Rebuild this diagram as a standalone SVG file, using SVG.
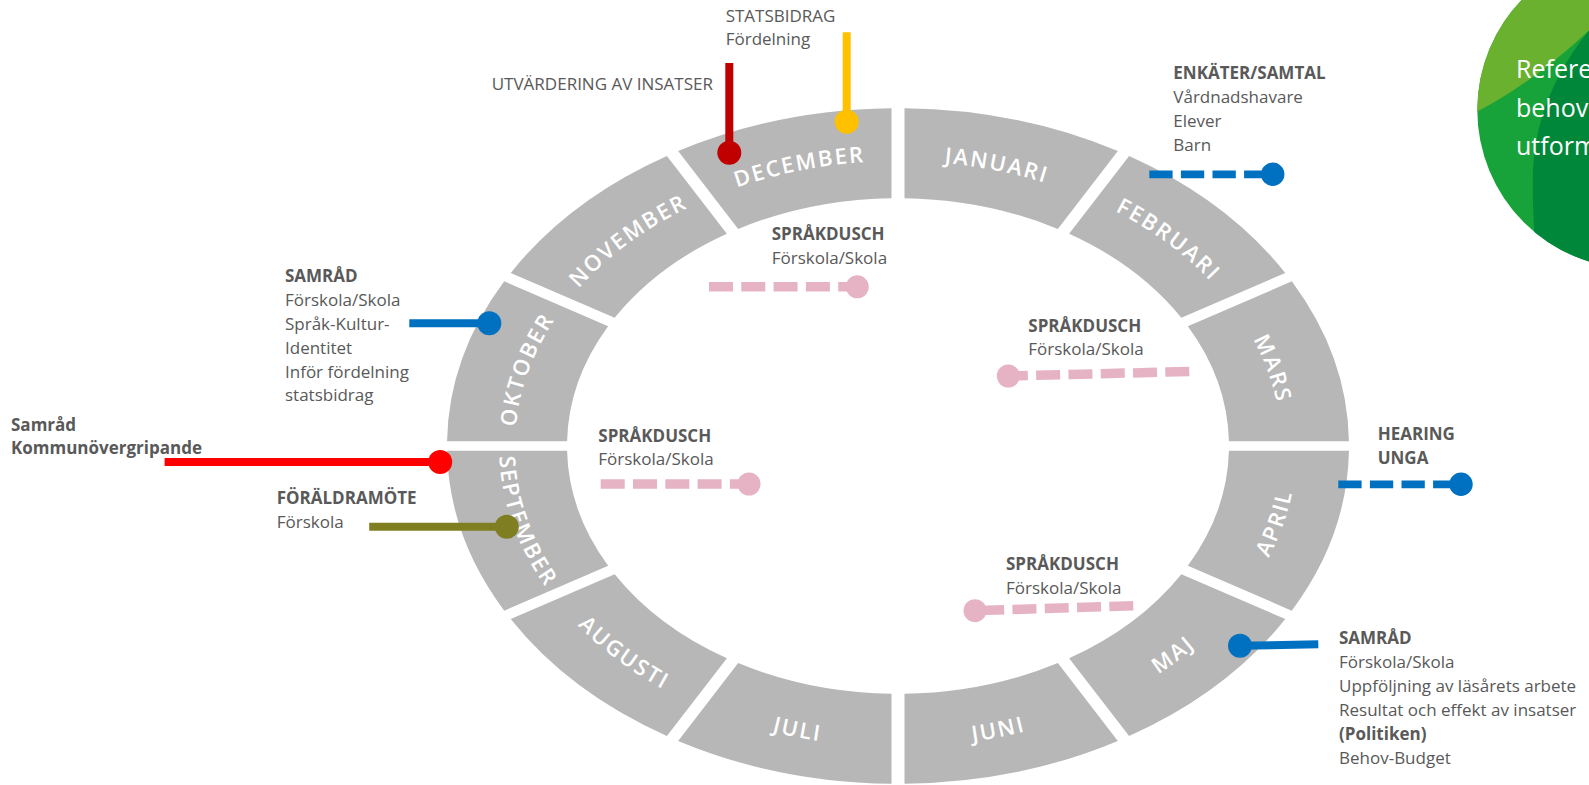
<svg xmlns="http://www.w3.org/2000/svg" width="1589" height="785" viewBox="0 0 1589 785">
<style>
  .seg{fill:#b7b7b7}
  .mon{font-family:'Open Sans','Liberation Sans',sans-serif;font-size:22px;font-weight:600;fill:#ffffff;letter-spacing:2px}
  .lbl{font-family:'Open Sans','Liberation Sans',sans-serif;font-size:17px;fill:#595959}
  .b{font-weight:700}
  .gt{font-family:'Open Sans','Liberation Sans',sans-serif;font-size:25px;fill:#ffffff}
  .solid{fill:none;stroke-width:8}
  .bd{fill:none;stroke:#0070c0;stroke-width:7.7;stroke-dasharray:23.3 8.3}
  .pk{fill:none;stroke:#e6b3c5;stroke-width:9.5;stroke-dasharray:24 8.3}
  .pkd{fill:#e6b3c5}
</style>
<defs>
  <path id="p-okt" d="M515,446 A383,285 0 0 1 566.3,303.5"/>
  <path id="p-nov" d="M566.3,303.5 A383,285 0 0 1 706.5,199.2"/>
  <path id="p-dec" d="M706.5,199.2 A383,285 0 0 1 898,161"/>
  <path id="p-jan" d="M898,161 A383,285 0 0 1 1089.5,199.2"/>
  <path id="p-feb" d="M1089.5,199.2 A383,285 0 0 1 1229.7,303.5"/>
  <path id="p-mar" d="M1229.7,303.5 A383,285 0 0 1 1281,446"/>
  <path id="p-apr" d="M1243.5,596.5 A399,301 0 0 0 1297,446"/>
  <path id="p-maj" d="M1097.5,706.7 A399,301 0 0 0 1243.5,596.5"/>
  <path id="p-jun" d="M898,747 A399,301 0 0 0 1097.5,706.7"/>
  <path id="p-jul" d="M698.5,706.7 A399,301 0 0 0 898,747"/>
  <path id="p-aug" d="M552.5,596.5 A399,301 0 0 0 698.5,706.7"/>
  <path id="p-sep" d="M499,446 A399,301 0 0 0 552.5,596.5"/>
  <clipPath id="gclip"><circle cx="1636" cy="110" r="158.7"/></clipPath>
</defs>

<!-- green circle (top right) -->
<g id="green-badge">
  <g clip-path="url(#gclip)">
    <rect x="1470" y="-60" width="330" height="340" fill="#17a339"/>
    <path d="M1460,120 Q1530,88 1600,20 L1600,-60 L1460,-60 Z" fill="#6ab130"/>
    <path d="M1605,12 C1562,58 1536,110 1533,170 C1532,200 1534,225 1537,280 L1800,280 L1800,-60 L1620,-60 Z" fill="#00873a"/>
  </g>
  <text class="gt" x="1516" y="78.3">Referens</text>
  <text class="gt" x="1516" y="116.7">behov</text>
  <text class="gt" x="1516" y="155">utformning</text>
</g>

<!-- year ring -->
<g id="m-jan"><path class="seg" transform="translate(898 446) scale(1 0.749)" d="M6.5,-450.95 A451,451 0 0 1 219.85,-393.77 L159.84,-289.84 A331,331 0 0 0 6.5,-330.94 Z"/>
  <text class="mon" text-anchor="middle"><textPath href="#p-jan" startOffset="50%">JANUARI</textPath></text></g>
<g id="m-feb"><path class="seg" transform="translate(898 446) scale(1 0.749)" d="M231.11,-387.27 A451,451 0 0 1 387.27,-231.11 L283.34,-171.10 A331,331 0 0 0 171.10,-283.34 Z"/>
  <text class="mon" text-anchor="middle"><textPath href="#p-feb" startOffset="50%">FEBRUARI</textPath></text></g>
<g id="m-mar"><path class="seg" transform="translate(898 446) scale(1 0.749)" d="M393.77,-219.85 A451,451 0 0 1 450.95,-6.5 L330.94,-6.5 A331,331 0 0 0 289.84,-159.84 Z"/>
  <text class="mon" text-anchor="middle"><textPath href="#p-mar" startOffset="50%">MARS</textPath></text></g>
<g id="m-apr"><path class="seg" transform="translate(898 446) scale(1 0.749)" d="M450.95,6.5 A451,451 0 0 1 393.77,219.85 L289.84,159.84 A331,331 0 0 0 330.94,6.5 Z"/>
  <text class="mon" text-anchor="middle"><textPath href="#p-apr" startOffset="50%">APRIL</textPath></text></g>
<g id="m-maj"><path class="seg" transform="translate(898 446) scale(1 0.749)" d="M387.27,231.11 A451,451 0 0 1 231.11,387.27 L171.10,283.34 A331,331 0 0 0 283.34,171.10 Z"/>
  <text class="mon" text-anchor="middle"><textPath href="#p-maj" startOffset="50%">MAJ</textPath></text></g>
<g id="m-jun"><path class="seg" transform="translate(898 446) scale(1 0.749)" d="M219.85,393.77 A451,451 0 0 1 6.5,450.95 L6.5,330.94 A331,331 0 0 0 159.84,289.84 Z"/>
  <text class="mon" text-anchor="middle"><textPath href="#p-jun" startOffset="50%">JUNI</textPath></text></g>
<g id="m-jul"><path class="seg" transform="translate(898 446) scale(1 0.749)" d="M-6.5,450.95 A451,451 0 0 1 -219.85,393.77 L-159.84,289.84 A331,331 0 0 0 -6.5,330.94 Z"/>
  <text class="mon" text-anchor="middle"><textPath href="#p-jul" startOffset="50%">JULI</textPath></text></g>
<g id="m-aug"><path class="seg" transform="translate(898 446) scale(1 0.749)" d="M-231.11,387.27 A451,451 0 0 1 -387.27,231.11 L-283.34,171.10 A331,331 0 0 0 -171.10,283.34 Z"/>
  <text class="mon" text-anchor="middle"><textPath href="#p-aug" startOffset="50%">AUGUSTI</textPath></text></g>
<g id="m-sep"><path class="seg" transform="translate(898 446) scale(1 0.749)" d="M-393.77,219.85 A451,451 0 0 1 -450.95,6.5 L-330.94,6.5 A331,331 0 0 0 -289.84,159.84 Z"/>
  <text class="mon" text-anchor="middle"><textPath href="#p-sep" startOffset="50%">SEPTEMBER</textPath></text></g>
<g id="m-okt"><path class="seg" transform="translate(898 446) scale(1 0.749)" d="M-450.95,-6.5 A451,451 0 0 1 -393.77,-219.85 L-289.84,-159.84 A331,331 0 0 0 -330.94,-6.5 Z"/>
  <text class="mon" text-anchor="middle"><textPath href="#p-okt" startOffset="50%">OKTOBER</textPath></text></g>
<g id="m-nov"><path class="seg" transform="translate(898 446) scale(1 0.749)" d="M-387.27,-231.11 A451,451 0 0 1 -231.11,-387.27 L-171.10,-283.34 A331,331 0 0 0 -283.34,-171.10 Z"/>
  <text class="mon" text-anchor="middle"><textPath href="#p-nov" startOffset="50%">NOVEMBER</textPath></text></g>
<g id="m-dec"><path class="seg" transform="translate(898 446) scale(1 0.749)" d="M-219.85,-393.77 A451,451 0 0 1 -6.5,-450.95 L-6.5,-330.94 A331,331 0 0 0 -159.84,-289.84 Z"/>
  <text class="mon" text-anchor="middle"><textPath href="#p-dec" startOffset="50%">DECEMBER</textPath></text></g>

<!-- event labels -->
<g id="ev-statsbidrag" class="lbl">
  <text x="725.7" y="21.7">STATSBIDRAG</text>
  <text x="725.7" y="45.2">Fördelning</text>
</g>
<g id="ev-utvardering" class="lbl">
  <text x="713" y="90" text-anchor="end">UTVÄRDERING AV INSATSER</text>
</g>
<g id="ev-enkater" class="lbl">
  <text x="1173.3" y="79.3" class="b">ENKÄTER/SAMTAL</text>
  <text x="1173.3" y="103.3">Vårdnadshavare</text>
  <text x="1173.3" y="127.3">Elever</text>
  <text x="1173.3" y="151">Barn</text>
</g>
<g id="ev-hearing" class="lbl">
  <text x="1377.7" y="440" class="b">HEARING</text>
  <text x="1377.7" y="463.5" class="b">UNGA</text>
</g>
<g id="ev-samrad-okt" class="lbl">
  <text x="285" y="282.3" class="b">SAMRÅD</text>
  <text x="285" y="306">Förskola/Skola</text>
  <text x="285" y="330">Språk-Kultur-</text>
  <text x="285" y="354">Identitet</text>
  <text x="285" y="377.7">Inför fördelning</text>
  <text x="285" y="401.3">statsbidrag</text>
</g>
<g id="ev-samrad-kommun" class="lbl">
  <text x="11" y="430.7" class="b">Samråd</text>
  <text x="11" y="454.3" class="b">Kommunövergripande</text>
</g>
<g id="ev-foraldramote" class="lbl">
  <text x="276.7" y="504" class="b">FÖRÄLDRAMÖTE</text>
  <text x="276.7" y="528">Förskola</text>
</g>
<g id="ev-sprak-dec" class="lbl">
  <text x="771.7" y="240" class="b">SPRÅKDUSCH</text>
  <text x="771.7" y="263.5">Förskola/Skola</text>
</g>
<g id="ev-sprak-mar" class="lbl">
  <text x="1028.3" y="331.7" class="b">SPRÅKDUSCH</text>
  <text x="1028.3" y="355">Förskola/Skola</text>
</g>
<g id="ev-sprak-sep" class="lbl">
  <text x="598.3" y="441.7" class="b">SPRÅKDUSCH</text>
  <text x="598.3" y="465">Förskola/Skola</text>
</g>
<g id="ev-sprak-maj" class="lbl">
  <text x="1006" y="570" class="b">SPRÅKDUSCH</text>
  <text x="1006" y="594">Förskola/Skola</text>
</g>
<g id="ev-samrad-maj" class="lbl">
  <text x="1339" y="644" class="b">SAMRÅD</text>
  <text x="1339" y="668">Förskola/Skola</text>
  <text x="1339" y="692">Uppföljning av läsårets arbete</text>
  <text x="1339" y="716">Resultat och effekt av insatser</text>
  <text x="1339" y="740" class="b">(Politiken)</text>
  <text x="1339" y="764">Behov-Budget</text>
</g>

<!-- connectors -->
<g id="connectors">
  <line class="solid" x1="729.3" y1="63" x2="729.3" y2="152.7" stroke="#c00000" stroke-width="7.7"/>
  <circle cx="729.3" cy="152.7" r="12" fill="#c00000"/>

  <line class="solid" x1="846.7" y1="32.3" x2="846.7" y2="121.7" stroke="#ffc000"/>
  <circle cx="846.7" cy="121.7" r="12" fill="#ffc000"/>

  <line class="bd" x1="1149.3" y1="174.3" x2="1272.7" y2="174.3"/>
  <circle cx="1272.7" cy="174.3" r="11.7" fill="#0070c0"/>

  <line class="bd" x1="1338.3" y1="484.3" x2="1461" y2="484.3"/>
  <circle cx="1461" cy="484.3" r="11.7" fill="#0070c0"/>

  <line class="solid" x1="409.3" y1="323.3" x2="489.3" y2="323.3" stroke="#0070c0" stroke-width="7.7"/>
  <circle cx="489.3" cy="323.3" r="12" fill="#0070c0"/>

  <line class="solid" x1="164.6" y1="462" x2="440.2" y2="462" stroke="#ff0000"/>
  <circle cx="440.2" cy="462" r="12" fill="#ff0000"/>

  <line class="solid" x1="369.2" y1="526.7" x2="506.8" y2="526.7" stroke="#7f7f22"/>
  <circle cx="506.8" cy="526.7" r="12" fill="#7f7f22"/>

  <line class="pk" x1="709" y1="286.8" x2="857.3" y2="286.8"/>
  <circle class="pkd" cx="857.3" cy="286.8" r="11.5"/>

  <line class="pk" x1="1189.3" y1="371.5" x2="1008.3" y2="376"/>
  <circle class="pkd" cx="1008.3" cy="376" r="11.5"/>

  <line class="pk" x1="600.7" y1="484" x2="749" y2="484"/>
  <circle class="pkd" cx="749" cy="484" r="11.5"/>

  <line class="pk" x1="1133.3" y1="605.8" x2="975" y2="610.7"/>
  <circle class="pkd" cx="975" cy="610.7" r="11.5"/>

  <line class="solid" x1="1318.3" y1="644.3" x2="1240" y2="645.7" stroke="#0070c0" stroke-width="7.7"/>
  <circle cx="1240" cy="645.7" r="12" fill="#0070c0"/>
</g>
</svg>
